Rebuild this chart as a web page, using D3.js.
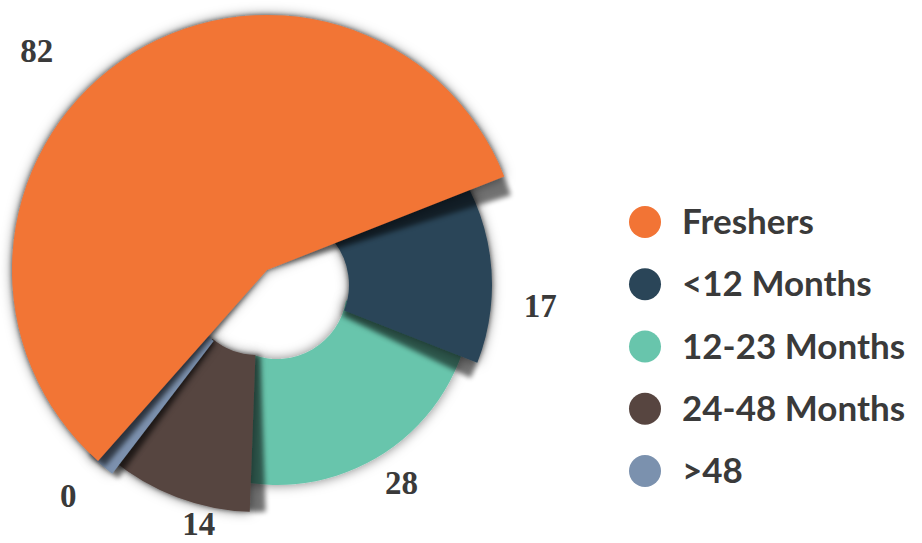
<!DOCTYPE html>
<html><head><meta charset="utf-8">
<script src="https://cdn.jsdelivr.net/npm/d3@7"></script>
<style>html,body{margin:0;padding:0;background:#fff;} svg{display:block}</style>
</head><body>
<svg id="chart" width="922" height="543"></svg>
<script>
// ---- data ----
const categories = ["Freshers", "<12 Months", "12-23 Months", "24-48 Months", ">48"];
const values = [82, 17, 28, 14, 0];
const valueLabels = ["82", "17", "28", "14", "0"];
const colors = ["#F27435", "#2A4558", "#68C5AC", "#574540", "#7B91AE"];

// ---- layout / style (not data) ----
const W = 922, H = 543;
const base = [270, 280];
const minSliceShare = 0.0115;       // zero-valued slices still show as a sliver
const startDeg = 221.5;
const deg = Math.PI / 180;
// per-slice styling: shift of the slice from the base centre, radii, tuck-under extension,
// cast-shadow widths, label placement
const sliceStyle = [
  {shift: [-3, -10], inner: 0,  outer: 255, extS: 0,  extE: 0,  shS: 2,   shE: 4.5, labR: 318, labA: -11.4},
  {shift: [9, 5],    inner: 70, outer: 213, extS: 16, extE: 0,  shS: 0,   shE: 4.5, labR: 262, labA: 4.6},
  {shift: [7, 9],    inner: 70, outer: 196, extS: 12, extE: 18, shS: 0,   shE: 0,   labR: 230, labA: 0.5},
  {shift: [-12, 3],  inner: 72, outer: 229, extS: 0,  extE: 2,  shS: 4,   shE: 0,   labR: 248, labA: -5.9},
  {shift: [-12, 3],  inner: 73, outer: 240, extS: 0,  extE: 3,  shS: 1.8, shE: 0,   labR: 285, labA: 2.3}
];
const drawOrder = [2, 1, 3, 4, 0]; // bottom to top

const svg = d3.select("#chart");
const defs = svg.append("defs");
const soft = defs.append("filter").attr("id", "soft")
  .attr("x", "-30%").attr("y", "-30%").attr("width", "160%").attr("height", "160%");
soft.append("feDropShadow").attr("dx", 0).attr("dy", 0).attr("stdDeviation", 6)
  .attr("flood-color", "#000").attr("flood-opacity", 0.5);
const blur = defs.append("filter").attr("id", "blur")
  .attr("x", "-20%").attr("y", "-20%").attr("width", "140%").attr("height", "140%");
blur.append("feGaussianBlur").attr("stdDeviation", 2.5);

const total = d3.sum(values);
const data = categories.map((c, i) => ({cat: c, value: values[i], label: valueLabels[i],
  disp: Math.max(values[i], total * minSliceShare)}));

const pie = d3.pie().sort(null).value(d => d.disp)
  .startAngle(startDeg * deg).endAngle(startDeg * deg + 2 * Math.PI);
const arcs = pie(data);

const pieG = svg.append("g");
drawOrder.forEach(i => {
  const a = arcs[i], st = sliceStyle[i];
  const g = pieG.append("g")
    .attr("transform", `translate(${base[0] + st.shift[0]},${base[1] + st.shift[1]})`);
  const arc = d3.arc().innerRadius(st.inner).outerRadius(st.outer);
  const s0 = a.startAngle - st.extS * deg, e0 = a.endAngle + st.extE * deg;
  if (st.shS > 0 || st.shE > 0) {
    g.append("path")
      .attr("d", arc({startAngle: s0 - st.shS * deg, endAngle: e0 + st.shE * deg}))
      .attr("fill", "#000").attr("opacity", 0.55).attr("filter", "url(#blur)");
  }
  g.append("path")
    .attr("d", arc({startAngle: s0, endAngle: e0}))
    .attr("fill", colors[i]).attr("filter", "url(#soft)");
});

// value labels
arcs.forEach((a, i) => {
  const st = sliceStyle[i];
  const mid = (a.startAngle + a.endAngle) / 2 + st.labA * deg;
  const cx = base[0] + st.shift[0] + Math.sin(mid) * st.labR;
  const cy = base[1] + st.shift[1] - Math.cos(mid) * st.labR;
  svg.append("text").attr("x", cx).attr("y", cy).attr("dy", "0.35em")
    .attr("text-anchor", "middle")
    .attr("font-family", "'Liberation Serif', serif").attr("font-weight", 700)
    .attr("font-size", 33).attr("fill", "#3a3a3a").text(a.data.label);
});

// legend
const legend = svg.append("g").attr("transform", "translate(645,222)");
const ly = d3.scalePoint().domain(categories).range([0, 249]);
categories.forEach((c, i) => {
  const row = legend.append("g").attr("transform", `translate(0,${ly(c)})`);
  row.append("circle").attr("r", 16).attr("fill", colors[i]);
  row.append("text").attr("x", 37).attr("y", 12)
    .attr("font-family", "Lato, sans-serif").attr("font-weight", 700)
    .attr("font-size", 35).attr("fill", "#3a3a3a").text(c);
});
</script>
</body></html>
